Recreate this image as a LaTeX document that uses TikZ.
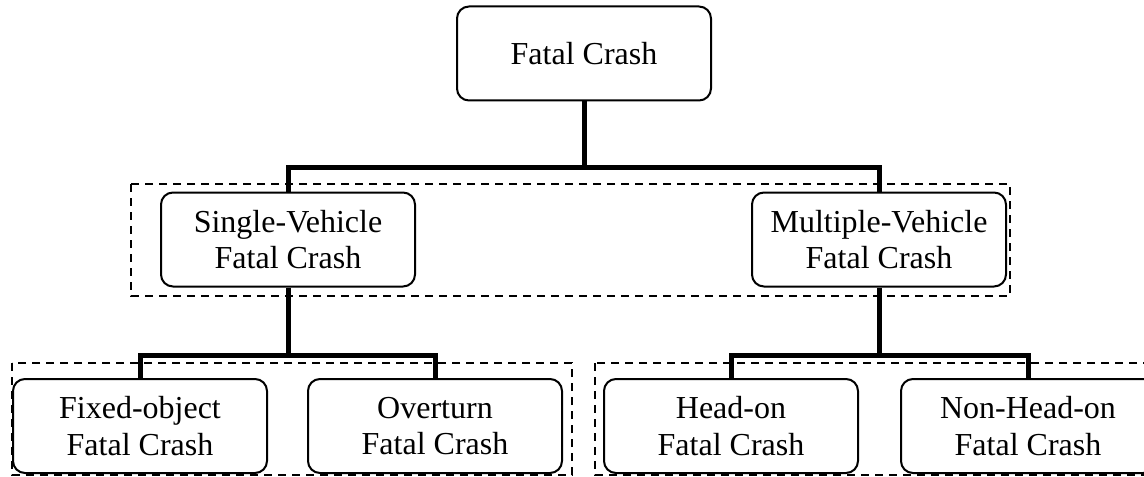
\documentclass[tikz,border=0pt]{standalone}
\usepackage{fontspec}
\setmainfont{Liberation Serif}
\usepackage{xcolor}
\usetikzlibrary{positioning,calc}
\definecolor{ink}{HTML}{000000}
\tikzset{
  crashbox/.style={draw=ink,fill=white,line width=1pt,rounded corners=6pt,
                   minimum width=127pt,minimum height=47pt,
                   align=center,inner sep=3pt,
                   font=\fontsize{16}{18.4}\selectfont},
  groupbox/.style={draw=ink,line width=0.8pt,dash pattern=on 4pt off 3pt},
  link/.style={line width=2.5pt,line join=miter,color=ink}
}

\begin{document}
\begin{tikzpicture}[x=0.5pt,y=-0.5pt]
      \clip (0,0) rectangle (1144,476);
      % dashed groups
      \draw[groupbox] (131,184) rectangle (1010,296);
      \draw[groupbox] (12,363) rectangle (572,475);
      \draw[groupbox] (595,363) rectangle (1160,475);
      % the tree
      \node[crashbox] (crash) at (584,53.5) {Fatal Crash};
      \node[crashbox] (sv) at (288,239.5) {Single-Vehicle\\Fatal Crash};
      \node[crashbox] (mv) at (879,239.5) {Multiple-Vehicle\\Fatal Crash};
      \node[crashbox] (fo) at (140,426) {Fixed-object\\Fatal Crash};
      \node[crashbox] (ov) at (435,426) {Overturn\\Fatal Crash};
      \node[crashbox] (ho) at (731,426) {Head-on\\Fatal Crash};
      \node[crashbox] (nh) at (1028,426) {Non-Head-on\\Fatal Crash};
      % junctions
      \coordinate (j0) at (584,167);
      \coordinate (j1) at (288,355);
      \coordinate (j2) at (879,355);
      \draw[link] (crash.south) -- (j0);
      \draw[link] (sv.north) |- (j0) -| (mv.north);
      \draw[link] (sv.south) -- (j1);
      \draw[link] (fo.north) |- (j1) -| (ov.north);
      \draw[link] (mv.south) -- (j2);
      \draw[link] (ho.north) |- (j2) -| (nh.north);
    \end{tikzpicture}
\end{document}
